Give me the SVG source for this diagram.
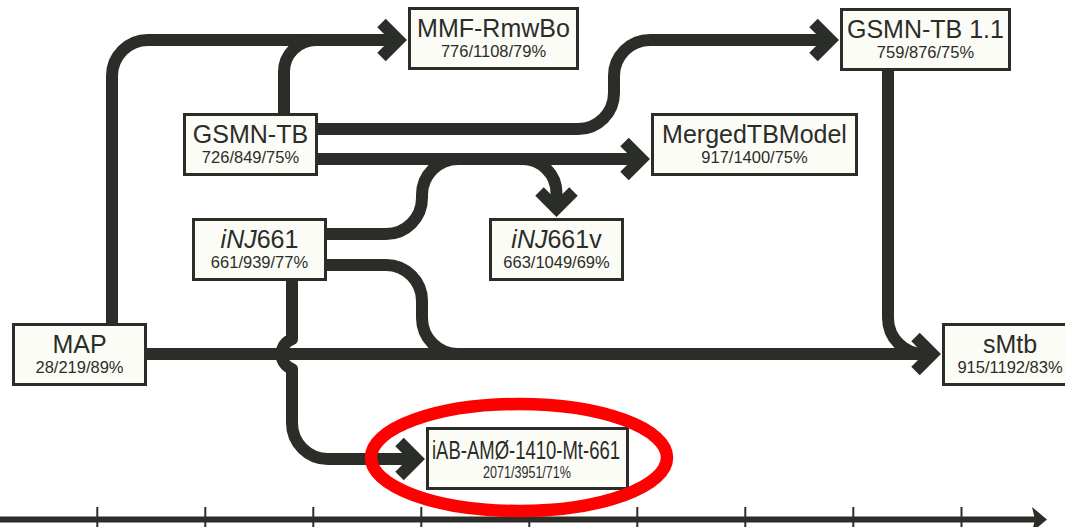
<svg xmlns="http://www.w3.org/2000/svg" width="1065" height="527" viewBox="0 0 1065 527">
<defs>
<style>
.bg{fill:#ffffff}
.edge{fill:none;stroke:#2b2d28;stroke-width:12;stroke-linejoin:round}
.box{fill:#fcfcf7;stroke:#2b2d28;stroke-width:3}
.t{font-family:"Liberation Sans",Arial,Helvetica,sans-serif;font-size:25px;fill:#2b2d28;text-anchor:middle}
.s{font-family:"Liberation Sans",Arial,Helvetica,sans-serif;font-size:16.5px;fill:#2b2d28;text-anchor:middle}
.axis{stroke:#2b2d28;fill:none}
</style>
<marker id="ah" markerUnits="userSpaceOnUse" orient="auto" viewBox="-30 -30 40 60" markerWidth="40" markerHeight="60" refX="0" refY="0">
<path d="M-17,-17 L0,0 L-17,17" fill="none" stroke="#2b2d28" stroke-width="12" stroke-linejoin="miter" stroke-linecap="butt"/>
</marker>
</defs>
<rect class="bg" x="0" y="0" width="1065" height="527"/>

<g id="axis">
<line class="axis" x1="0" y1="519.5" x2="1037" y2="519.5" stroke-width="6"/>
<g class="axis" stroke-width="2">
<line x1="97.3" y1="507" x2="97.3" y2="527"/>
<line x1="205.3" y1="507" x2="205.3" y2="527"/>
<line x1="313.3" y1="507" x2="313.3" y2="527"/>
<line x1="421.3" y1="507" x2="421.3" y2="527"/>
<line x1="529.3" y1="507" x2="529.3" y2="527"/>
<line x1="637.3" y1="507" x2="637.3" y2="527"/>
<line x1="745.3" y1="507" x2="745.3" y2="527"/>
<line x1="853.3" y1="507" x2="853.3" y2="527"/>
<line x1="961.5" y1="507" x2="961.5" y2="527"/>
</g>
<polygon points="1032,507 1047,519.5 1032,532 1035,519.5" fill="#2b2d28"/>
</g>

<g id="connectors">
<path class="edge" d="M112,323 V76 A36,36 0 0 1 148,40 H398.5" marker-end="url(#ah)"/>
<path class="edge" d="M284,113 V72 A32,32 0 0 1 316,40 H330"/>
<path class="edge" d="M318,129 H578 A36,36 0 0 0 614,93 V76 A36,36 0 0 1 650,40 H830.5" marker-end="url(#ah)"/>
<path class="edge" d="M318,159 H641.5" marker-end="url(#ah)"/>
<path class="edge" d="M522,159 A34,34 0 0 1 556.5,193.5 V208.5" marker-end="url(#ah)"/>
<path class="edge" d="M327,234 H386 A36,36 0 0 0 422,198 V195 A36,36 0 0 1 458,159 H475"/>
<path class="edge" d="M327,265 H386 A36,36 0 0 1 422,301 V318 A36,36 0 0 0 458,354 H475"/>
<path class="edge" d="M147,354 H932.5" marker-end="url(#ah)"/>
<path class="edge" d="M888,71 V318 A36,36 0 0 0 924,354 H932"/>
<path class="edge" d="M292,281 V339 A16,16 0 0 0 292,369 V423 A36,36 0 0 0 328,459 H416.5" marker-end="url(#ah)"/>
</g>

<g id="node-mmf">
<rect class="box" x="409.5" y="8.5" width="168" height="60"/>
<text class="t" x="493.5" y="37">MMF-RmwBo</text>
<text class="s" x="493.5" y="57">776/1108/79%</text>
</g>
<g id="node-gsmntb11">
<rect class="box" x="841.5" y="9.5" width="168" height="60"/>
<text class="t" x="925.5" y="38">GSMN-TB 1.1</text>
<text class="s" x="925.5" y="58">759/876/75%</text>
</g>
<g id="node-gsmntb">
<rect class="box" x="184.5" y="114.5" width="132" height="60"/>
<text class="t" x="250.5" y="143">GSMN-TB</text>
<text class="s" x="250.5" y="163">726/849/75%</text>
</g>
<g id="node-merged">
<rect class="box" x="652.5" y="114.5" width="204" height="60"/>
<text class="t" x="754.5" y="143">MergedTBModel</text>
<text class="s" x="754.5" y="163">917/1400/75%</text>
</g>
<g id="node-inj661">
<rect class="box" x="193.5" y="219.5" width="132" height="60"/>
<text class="t" x="259.5" y="248"><tspan font-style="italic">iNJ</tspan>661</text>
<text class="s" x="259.5" y="268">661/939/77%</text>
</g>
<g id="node-inj661v">
<rect class="box" x="490.5" y="219.5" width="132" height="60"/>
<text class="t" x="556.5" y="248"><tspan font-style="italic">iNJ</tspan>661v</text>
<text class="s" x="556.5" y="268">663/1049/69%</text>
</g>
<g id="node-map">
<rect class="box" x="13.5" y="324.5" width="132" height="60"/>
<text class="t" x="79.5" y="353">MAP</text>
<text class="s" x="79.5" y="373">28/219/89%</text>
</g>
<g id="node-smtb">
<rect class="box" x="943.5" y="324.5" width="133" height="60"/>
<text class="t" x="1010" y="353">sMtb</text>
<text class="s" x="1010" y="373">915/1192/83%</text>
</g>
<g id="node-iab">
<rect class="box" x="427.5" y="428.5" width="200" height="60"/>
<text class="t" x="526" y="458.5" font-size="24" textLength="188" lengthAdjust="spacingAndGlyphs">iAB-AMØ-1410-Mt-661</text>
<text class="s" x="527" y="478" font-size="15.5" textLength="88" lengthAdjust="spacingAndGlyphs">2071/3951/71%</text>
</g>

<g id="highlight">
<ellipse cx="519" cy="457.5" rx="148" ry="53.5" fill="none" stroke="#ff0000" stroke-width="12.5"/>
</g>
</svg>
